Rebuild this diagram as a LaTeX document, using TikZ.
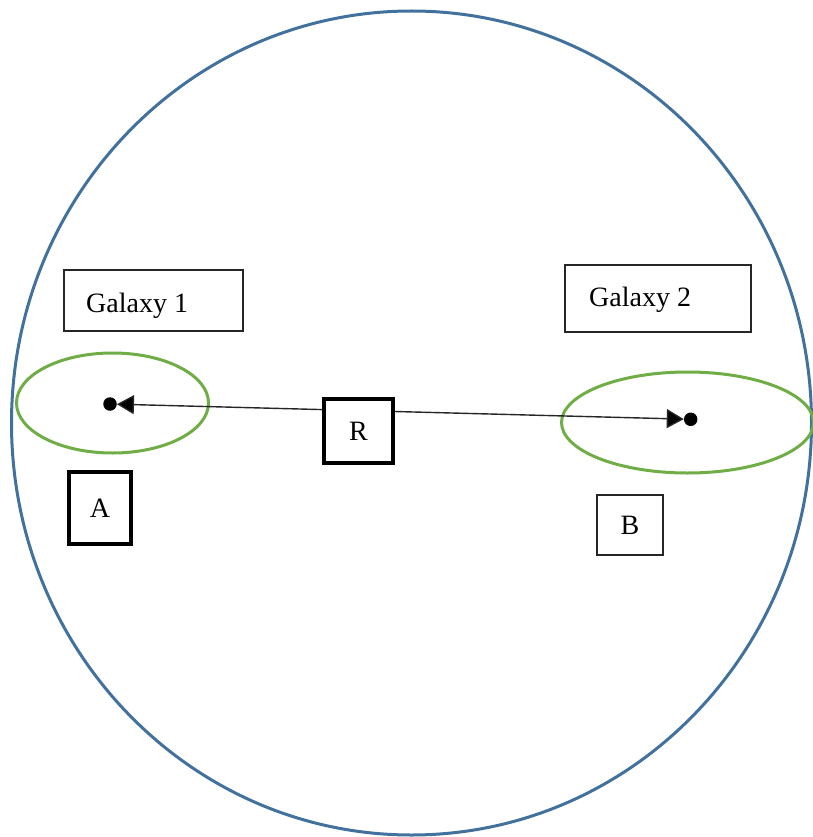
\documentclass[tikz,border=0pt]{standalone}
\usepackage{fontspec}
\setmainfont{Liberation Serif}
\usetikzlibrary{arrows.meta}
\definecolor{universe}{RGB}{65,113,156}
\definecolor{halo}{RGB}{112,173,71}
\tikzset{
  thickbox/.style={draw=black, line width=3.2pt, fill=white, inner sep=0pt},
  thinbox/.style={draw=black!85, line width=1.8pt, fill=white, inner sep=0pt},
  lbl/.style={font=\fontsize{28}{34}\selectfont, inner sep=0pt},
  galaxydot/.style={circle, fill=black, inner sep=0pt, minimum size=13.5pt},
  halocurve/.style={draw=halo, line width=3pt},
  separation/.style={draw=black!85, line width=1.4pt,
    {Triangle[length=17pt,width=19pt,fill=black]}-{Triangle[length=17pt,width=19pt,fill=black]}}
}
\begin{document}
\begin{tikzpicture}[x=1pt, y=-1pt]
\useasboundingbox (0,0) rectangle (812,837);

% observable universe
\draw[universe, line width=3pt] (411.5,423) ellipse [x radius=400, y radius=412];

% the two galaxies' halos
\draw[halocurve] (112.5,403) ellipse [x radius=96, y radius=50];
\draw[halocurve] (687.5,422.5) ellipse [x radius=126, y radius=50.5];

% galaxy centres
\node[galaxydot] (dA) at (110,404) {};
\node[galaxydot] (dB) at (690.7,419.3) {};

% separation R
\draw[separation] (dA) -- (dB);

% labels
\node[thinbox, minimum width=179pt, minimum height=61pt] (g1box) at (153.5,300.3) {};
\node[lbl, anchor=base west] (g1) at (86,312) {Galaxy 1};
\node[thinbox, minimum width=186pt, minimum height=67pt] (g2box) at (658,298.8) {};
\node[lbl, anchor=base west] (g2) at (589,306.5) {Galaxy 2};

\node[thickbox, lbl, minimum width=69pt, minimum height=64pt] (R) at (358.5,431) {R};
\node[thickbox, lbl, minimum width=62pt, minimum height=72pt] (A) at (100,508) {A};
\node[thinbox, lbl, minimum width=66pt, minimum height=60pt] (B) at (630,525) {B};
\end{tikzpicture}
\end{document}
